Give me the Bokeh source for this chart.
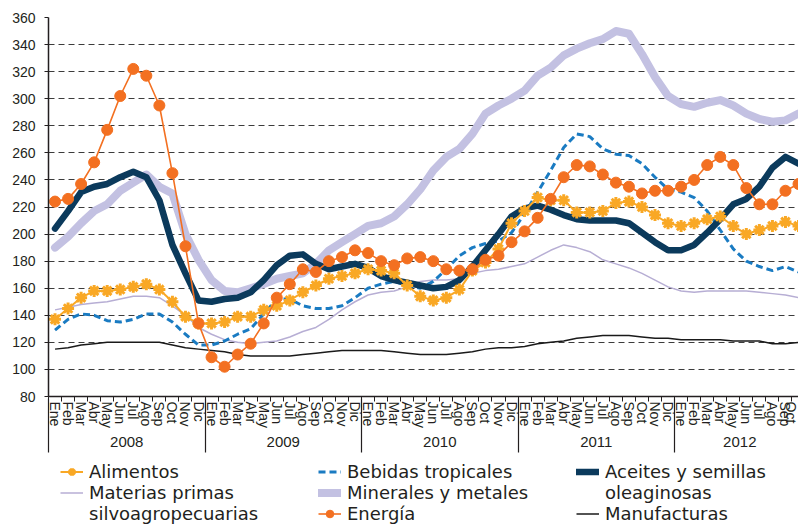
from bokeh.plotting import figure
from bokeh.layouts import column
from bokeh.models import LinearAxis, FixedTicker, Legend, LegendItem, Range1d
from bokeh.embed import file_html
from bokeh.resources import INLINE

month_names = ["Ene", "Feb", "Mar", "Abr", "May", "Jun", "Jul", "Ago", "Sep", "Oct", "Nov", "Dic"]
years = ["2008", "2009", "2010", "2011", "2012"]
months_per_year = [12, 12, 12, 12, 10]
y_ticks = list(range(80, 361, 20))

alimentos = [137, 145, 153, 158, 158, 159, 161, 163, 159, 150,
             139, 134, 134, 135, 139, 139, 144, 147, 151, 157,
             162, 167, 169, 171, 174, 173, 171, 162, 154, 151,
             153, 159, 173, 179, 189, 208, 217, 227, 225, 225,
             216, 216, 217, 223, 224, 220, 214, 208, 206, 208,
             211, 213, 206, 200, 203, 206, 209, 206]
materias = [144, 146, 148, 149, 150, 152, 154, 154, 153, 147,
            140, 131, 126, 122, 120, 119, 120, 121, 124, 128,
            131, 137, 144, 150, 155, 157, 158, 161, 165, 166,
            166, 167, 171, 173, 174, 176, 178, 183, 188, 192,
            190, 187, 181, 178, 175, 171, 166, 161, 158, 157,
            158, 158, 158, 158, 157, 156, 155, 153]
bebidas = [129, 137, 141, 140, 136, 135, 137, 141, 141, 135,
           126, 118, 118, 121, 126, 130, 141, 152, 152, 147,
           145, 145, 147, 153, 160, 163, 165, 162, 160, 165,
           174, 184, 190, 193, 195, 201, 215, 231, 247, 264,
           274, 272, 263, 259, 258, 252, 242, 233, 231, 227,
           217, 203, 189, 180, 176, 173, 176, 172]
minerales = [190, 198, 208, 217, 222, 232, 238, 244, 235, 230,
             200, 181, 166, 158, 157, 160, 163, 167, 169, 171,
             178, 188, 194, 200, 206, 208, 213, 222, 233, 247,
             257, 263, 274, 289, 295, 300, 306, 317, 323, 332,
             337, 341, 344, 350, 348, 333, 316, 302, 296, 294,
             297, 299, 295, 289, 285, 283, 284, 289]
energia = [224, 226, 237, 253, 277, 302, 322, 317, 295, 245,
           191, 134, 109, 102, 111, 119, 134, 153, 163, 174,
           172, 180, 183, 188, 186, 180, 177, 182, 183, 180,
           174, 173, 174, 181, 184, 194, 202, 212, 226, 242,
           251, 250, 244, 238, 235, 230, 232, 232, 235, 240,
           251, 257, 251, 234, 222, 222, 232, 237]
aceites = [204, 217, 231, 235, 237, 242, 246, 242, 225, 192,
           171, 151, 150, 152, 153, 157, 166, 177, 184, 185,
           178, 174, 176, 178, 175, 169, 166, 164, 162, 160,
           161, 166, 176, 188, 200, 213, 219, 221, 218, 214,
           211, 210, 210, 210, 208, 201, 194, 188, 188, 192,
           201, 211, 222, 226, 235, 249, 257, 252]
manufacturas = [115, 116, 118, 119, 120, 120, 120, 120, 120, 118,
                116, 115, 114, 113, 111, 110, 110, 110, 110, 111,
                112, 113, 114, 114, 114, 114, 113, 112, 111, 111,
                111, 112, 113, 115, 116, 116, 117, 119, 120, 121,
                123, 124, 125, 125, 125, 124, 123, 123, 122, 122,
                122, 122, 121, 121, 121, 119, 119, 120]

n = sum(months_per_year)
x = [i + 0.5 for i in range(n)]
month_labels = [month_names[i % 12] for i in range(n)]
year_starts = []
year_centers = []
s = 0
for m in months_per_year:
    year_starts.append(s)
    year_centers.append(s + m / 2)
    s += m

FONT = "Liberation Sans"
INK = "#231f20"

p = figure(width=798, height=458, x_range=Range1d(0, n - 0.5), y_range=Range1d(80, 360),
           output_backend="svg", toolbar_location=None, x_axis_location=None,
           min_border_left=48, min_border_right=0, min_border_top=17, min_border_bottom=62)
p.outline_line_color = None
p.background_fill_color = "white"
p.border_fill_color = "white"

yt = FixedTicker(ticks=y_ticks)
p.yaxis.ticker = yt
p.ygrid.ticker = yt
p.yaxis.axis_line_color = INK
p.yaxis.axis_line_width = 1.5
p.yaxis.major_tick_line_color = INK
p.yaxis.major_tick_in = 0
p.yaxis.major_tick_out = 4
p.yaxis.minor_tick_line_color = None
p.yaxis.major_label_text_font = FONT
p.yaxis.major_label_text_font_size = "14px"
p.yaxis.major_label_text_color = INK
p.yaxis.major_label_standoff = 9
p.xgrid.visible = False
p.ygrid.grid_line_color = "#3c3c3c"
p.ygrid.grid_line_dash = "6 4"
p.ygrid.grid_line_width = 1

month_axis = LinearAxis(
    ticker=FixedTicker(ticks=x, minor_ticks=list(range(n + 1))),
    major_label_overrides={xi: lab for xi, lab in zip(x, month_labels)},
    major_label_orientation="vertical",
    major_tick_in=0, major_tick_out=0, minor_tick_in=0, minor_tick_out=5,
    minor_tick_line_color=INK, axis_line_color=INK, axis_line_width=1.5,
    major_label_standoff=0, major_label_text_font=FONT,
    major_label_text_font_size="14px", major_label_text_color=INK)
p.add_layout(month_axis, "below")

year_axis = LinearAxis(
    ticker=FixedTicker(ticks=year_centers, minor_ticks=year_starts),
    major_label_overrides={c: y for c, y in zip(year_centers, years)},
    major_tick_in=0, major_tick_out=0, minor_tick_in=32, minor_tick_out=22,
    minor_tick_line_color=INK, minor_tick_line_width=1.2, axis_line_color=None,
    major_label_standoff=-16, major_label_text_font=FONT,
    major_label_text_font_size="15px", major_label_text_color=INK)
p.add_layout(year_axis, "below")

series = {
    "min": minerales, "mat": materias, "man": manufacturas, "beb": bebidas,
    "ace": aceites, "al_l": alimentos, "al_p": alimentos, "en_l": energia, "en_p": energia,
}
styles = {
    "min": dict(line_color="#c3c1e2", line_width=8, line_cap="round", line_join="round"),
    "mat": dict(line_color="#b7aed4", line_width=1.5, line_join="round"),
    "man": dict(line_color="#1a1a1a", line_width=1.5, line_join="round"),
    "beb": dict(line_color="#1a7bc2", line_width=3, line_dash="7 4", line_join="round"),
    "ace": dict(line_color="#0b3a5c", line_width=6.5, line_cap="round", line_join="round"),
    "al_l": dict(line_color="#f9a825", line_width=2, line_join="round"),
    "al_p": dict(marker="asterisk", size=12, line_color="#f9a825", line_width=3),
    "en_l": dict(line_color="#f37021", line_width=1.6, line_join="round"),
    "en_p": dict(marker="circle", size=11, fill_color="#f37021", line_color="#f37021"),
}


def draw(fig, key):
    st = styles[key]
    if "marker" in st:
        return fig.scatter(x, series[key], **st)
    return fig.line(x, series[key], **st)


for key in ["min", "mat", "man", "beb", "ace", "al_l", "al_p", "en_l", "en_p"]:
    draw(p, key)

# legend strip: a second figure whose view shows none of the data, so only the legend is visible
q = figure(width=798, height=67, x_range=Range1d(0, n - 0.5), y_range=Range1d(0, 1),
           output_backend="svg", toolbar_location=None, x_axis_location=None,
           y_axis_location=None, min_border=0)
q.outline_line_color = None
q.xgrid.visible = False
q.ygrid.visible = False
lg = {k: draw(q, k) for k in styles}

items = [
    LegendItem(label="Alimentos", renderers=[lg["al_l"], lg["al_p"]]),
    LegendItem(label="Materias primas", renderers=[lg["mat"]]),
    LegendItem(label="silvoagropecuarias", renderers=[]),
    LegendItem(label="Bebidas tropicales", renderers=[lg["beb"]]),
    LegendItem(label="Minerales y metales", renderers=[lg["min"]]),
    LegendItem(label="Energía", renderers=[lg["en_l"], lg["en_p"]]),
    LegendItem(label="Aceites y semillas", renderers=[lg["ace"]]),
    LegendItem(label="oleaginosas", renderers=[]),
    LegendItem(label="Manufacturas", renderers=[lg["man"]]),
]
legend = Legend(items=items, location=(12, 1), orientation="vertical", nrows=3,
                label_text_font="DejaVu Sans", label_text_font_size="18px",
                label_text_color=INK, glyph_width=23, glyph_height=19,
                label_height=19, label_width=229, label_standoff=6,
                spacing=0, padding=0, margin=0, border_line_color=None,
                background_fill_alpha=0)
q.add_layout(legend, "center")

open("out.html", "w").write(file_html(column(p, q, spacing=0), INLINE))
